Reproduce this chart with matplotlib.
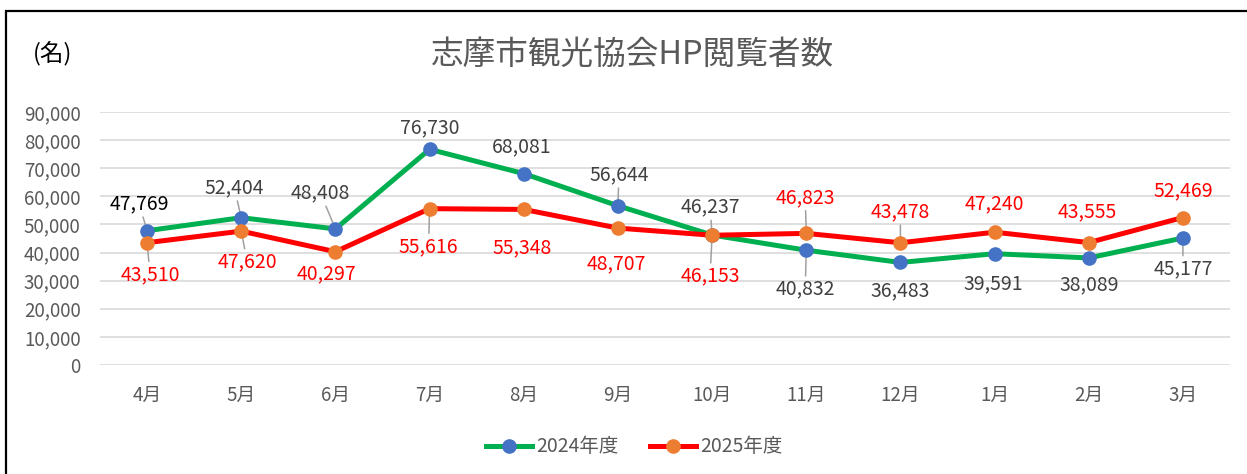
import matplotlib
matplotlib.use('Agg')
import matplotlib.pyplot as plt
from matplotlib.patches import Rectangle
from matplotlib.ticker import FuncFormatter

plt.rcParams['font.family'] = ['Noto Sans CJK JP', 'DejaVu Sans']

months = ['4月', '5月', '6月', '7月', '8月', '9月', '10月', '11月', '12月', '1月', '2月', '3月']
fy2024 = [47769, 52404, 48408, 76730, 68081, 56644, 46237, 40832, 36483, 39591, 38089, 45177]
fy2025 = [43510, 47620, 40297, 55616, 55348, 48707, 46153, 46823, 43478, 47240, 43555, 52469]
series_names = ['2024年度', '2025年度']
title = '志摩市観光協会HP閲覧者数'

# label offsets in pixels (dx, dy) and whether a leader line is drawn
off_2024 = [(-8, 27), (-7, 30), (-15, 36), (0, 22), (-2, 27), (1, 31),
            (-2, 28), (-1, -39), (0, -28), (-1, -30), (0, -27), (0, -31)]
lead_2024 = [1, 1, 1, 0, 0, 1, 1, 1, 0, 0, 0, 1]
off_2025 = [(3, -32), (6, -31), (-9, -22), (-1, -38), (-2, -38), (-2, -36),
            (-2, -41), (-1, 36), (0, 31), (0, 28), (-1, 31), (0, 27)]
lead_2025 = [1, 1, 0, 1, 0, 0, 1, 1, 1, 0, 0, 0]
colors_2024_lbl = ['#000000'] + ['#404040'] * 11

fig = plt.figure(figsize=(12.47, 4.74), dpi=100)
ax = fig.add_axes([100 / 1247, 1 - 365 / 474, 1130 / 1247, 253 / 474])

x = list(range(len(months)))
ax.plot(x, fy2024, color='#00B050', lw=3.6, marker='o', ms=9.5,
        mfc='#4472C4', mec='#4472C4', label=series_names[0], zorder=3)
ax.plot(x, fy2025, color='#FF0000', lw=3.6, marker='o', ms=9.5,
        mfc='#ED7D31', mec='#ED7D31', label=series_names[1], zorder=3)


def label(vals, offs, leads, cols):
    for i, v in enumerate(vals):
        ap = None
        if leads[i]:
            ap = dict(arrowstyle='-', color='#a0a0a0', lw=1.1, shrinkA=0, shrinkB=0)
        ax.annotate(f'{v:,}', (i, v), xytext=offs[i], textcoords='offset pixels',
                    ha='center', va='center', fontsize=14, color=cols[i],
                    arrowprops=ap, zorder=2, annotation_clip=False)


label(fy2024, off_2024, lead_2024, colors_2024_lbl)
label(fy2025, off_2025, lead_2025, ['#FF0000'] * 12)

ax.set_xlim(-0.5, len(months) - 0.5)
ax.set_ylim(0, 90000)
ax.set_yticks(range(0, 90001, 10000))
ax.yaxis.set_major_formatter(FuncFormatter(lambda v, p: f'{int(v):,}'))
ax.set_xticks(x)
ax.set_xticklabels(months)
ax.tick_params(axis='both', length=0, labelsize=13.5, colors='#595959')
ax.tick_params(axis='x', pad=14)
ax.tick_params(axis='y', pad=14)
ax.grid(axis='y', color='#d9d9d9', lw=1.2)
ax.set_axisbelow(True)
for s in ax.spines.values():
    s.set_visible(False)

fig.text(632 / 1247, 1 - 55 / 474, title, ha='center', va='center',
         fontsize=23.5, color='#595959')
fig.text(53 / 1247, 1 - 53 / 474, '(名)', ha='center', va='center',
         fontsize=17, color='#000000')

leg = fig.legend(loc='center', bbox_to_anchor=(634 / 1247, 1 - 447 / 474), ncol=2,
                 frameon=False, fontsize=14, handlelength=2.4, columnspacing=1.6,
                 handletextpad=0.2)
for t in leg.get_texts():
    t.set_color('#595959')

fig.patches.append(Rectangle((6 / 1247, -0.2), 1.2, 1.2 - 11 / 474, transform=fig.transFigure,
                             fill=False, ec='black', lw=1.6))

fig.savefig('out.png', dpi=100)
